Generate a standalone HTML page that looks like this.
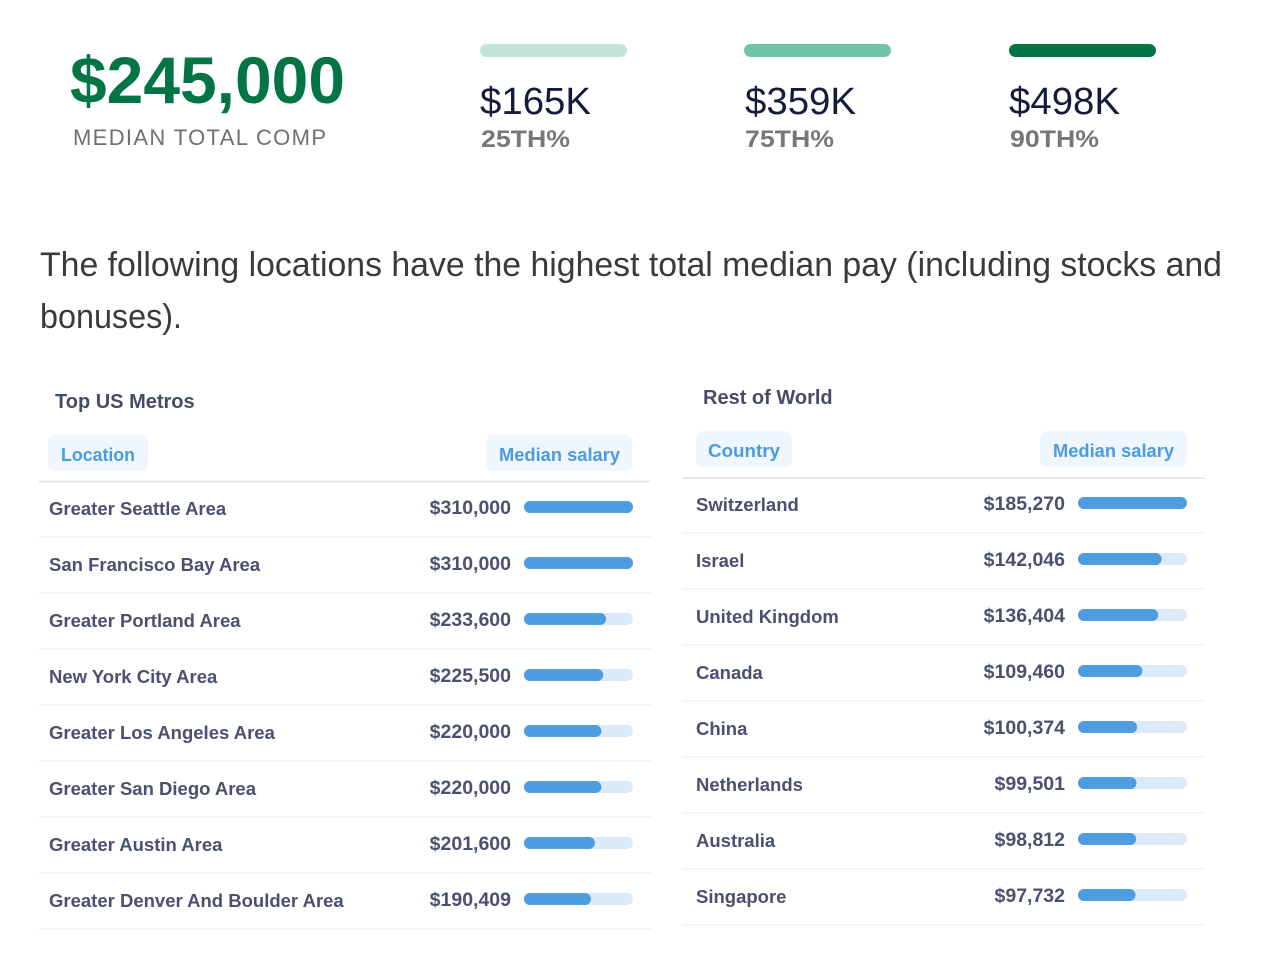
<!DOCTYPE html>
<html><head><meta charset="utf-8"><style>
html,body{margin:0;padding:0;background:#fff;}
svg{display:block;}
text{font-family:"Liberation Sans",Arial,sans-serif;}
</style></head><body>
<svg width="1263" height="959" viewBox="0 0 1263 959" xmlns="http://www.w3.org/2000/svg">
<rect width="1263" height="959" fill="#fff"/>
<!-- header -->
<text x="70" y="103" font-size="66" font-weight="bold" fill="#037545" textLength="275" lengthAdjust="spacingAndGlyphs">$245,000</text>
<text x="73" y="145" font-size="22" fill="#707070" textLength="253" lengthAdjust="spacing">MEDIAN TOTAL COMP</text>

<rect x="480" y="44" width="147" height="13" rx="6.5" fill="#c3e3d8"/>
<rect x="744" y="44" width="147" height="13" rx="6.5" fill="#6fc4a6"/>
<rect x="1009" y="44" width="147" height="13" rx="6.5" fill="#037545"/>

<text x="480" y="114" font-size="38" fill="#131c3b" textLength="111" lengthAdjust="spacingAndGlyphs">$165K</text>
<text x="745" y="114" font-size="38" fill="#131c3b" textLength="111" lengthAdjust="spacingAndGlyphs">$359K</text>
<text x="1009" y="114" font-size="38" fill="#131c3b" textLength="111" lengthAdjust="spacingAndGlyphs">$498K</text>

<text x="481" y="147" font-size="24" font-weight="bold" fill="#777" textLength="89" lengthAdjust="spacingAndGlyphs">25TH%</text>
<text x="745" y="147" font-size="24" font-weight="bold" fill="#777" textLength="89" lengthAdjust="spacingAndGlyphs">75TH%</text>
<text x="1010" y="147" font-size="24" font-weight="bold" fill="#777" textLength="89" lengthAdjust="spacingAndGlyphs">90TH%</text>

<!-- paragraph -->
<text x="40" y="276" font-size="33.8" fill="#3a3a3a" textLength="1182" lengthAdjust="spacingAndGlyphs">The following locations have the highest total median pay (including stocks and</text>
<text x="40" y="328" font-size="33.8" fill="#3a3a3a" textLength="142" lengthAdjust="spacingAndGlyphs">bonuses).</text>

<!-- left table -->
<text x="55" y="408" font-size="20" font-weight="bold" fill="#454d66">Top US Metros</text>
<rect x="48" y="435" width="100" height="36" rx="7" fill="#eff6fd"/>
<text x="61" y="461" font-size="18" font-weight="bold" fill="#4b9be0" textLength="74" lengthAdjust="spacingAndGlyphs">Location</text>
<rect x="486" y="435" width="146" height="36" rx="7" fill="#eff6fd"/>
<text x="499" y="461" font-size="18" font-weight="bold" fill="#4b9be0" textLength="121" lengthAdjust="spacingAndGlyphs">Median salary</text>
<line x1="39" y1="481.5" x2="651" y2="481.5" stroke="#e7e9ec" stroke-width="2"/>

<g font-size="18.5" font-weight="bold" fill="#4a5170">
<text x="49" y="515">Greater Seattle Area</text>
<text x="49" y="571">San Francisco Bay Area</text>
<text x="49" y="627">Greater Portland Area</text>
<text x="49" y="683">New York City Area</text>
<text x="49" y="739">Greater Los Angeles Area</text>
<text x="49" y="795">Greater San Diego Area</text>
<text x="49" y="851">Greater Austin Area</text>
<text x="49" y="907">Greater Denver And Boulder Area</text>
</g>
<g font-size="19.5" font-weight="bold" fill="#4a5170" text-anchor="end">
<text x="511" y="514">$310,000</text>
<text x="511" y="570">$310,000</text>
<text x="511" y="626">$233,600</text>
<text x="511" y="682">$225,500</text>
<text x="511" y="738">$220,000</text>
<text x="511" y="794">$220,000</text>
<text x="511" y="850">$201,600</text>
<text x="511" y="906">$190,409</text>
</g>
<g fill="#dbeaf8">
<rect x="524" y="501" width="109" height="12" rx="6"/>
<rect x="524" y="557" width="109" height="12" rx="6"/>
<rect x="524" y="613" width="109" height="12" rx="6"/>
<rect x="524" y="669" width="109" height="12" rx="6"/>
<rect x="524" y="725" width="109" height="12" rx="6"/>
<rect x="524" y="781" width="109" height="12" rx="6"/>
<rect x="524" y="837" width="109" height="12" rx="6"/>
<rect x="524" y="893" width="109" height="12" rx="6"/>
</g>
<g fill="#4d9de0">
<rect x="524" y="501" width="109" height="12" rx="6"/>
<rect x="524" y="557" width="109" height="12" rx="6"/>
<rect x="524" y="613" width="82.1" height="12" rx="6"/>
<rect x="524" y="669" width="79.3" height="12" rx="6"/>
<rect x="524" y="725" width="77.4" height="12" rx="6"/>
<rect x="524" y="781" width="77.4" height="12" rx="6"/>
<rect x="524" y="837" width="70.9" height="12" rx="6"/>
<rect x="524" y="893" width="67" height="12" rx="6"/>
</g>
<g stroke="#f1f2f4" stroke-width="1.5">
<line x1="39" y1="537" x2="651" y2="537"/>
<line x1="39" y1="593" x2="651" y2="593"/>
<line x1="39" y1="649" x2="651" y2="649"/>
<line x1="39" y1="705" x2="651" y2="705"/>
<line x1="39" y1="761" x2="651" y2="761"/>
<line x1="39" y1="817" x2="651" y2="817"/>
<line x1="39" y1="873" x2="651" y2="873"/>
<line x1="39" y1="929" x2="651" y2="929"/>
</g>

<!-- right table -->
<text x="703" y="404" font-size="20" font-weight="bold" fill="#454d66">Rest of World</text>
<rect x="696" y="431" width="96" height="36" rx="7" fill="#eff6fd"/>
<text x="708" y="457" font-size="18" font-weight="bold" fill="#4b9be0" textLength="72" lengthAdjust="spacingAndGlyphs">Country</text>
<rect x="1040" y="431" width="147" height="36" rx="7" fill="#eff6fd"/>
<text x="1053" y="457" font-size="18" font-weight="bold" fill="#4b9be0" textLength="121" lengthAdjust="spacingAndGlyphs">Median salary</text>
<line x1="682" y1="478" x2="1205" y2="478" stroke="#e7e9ec" stroke-width="2"/>

<g font-size="18.5" font-weight="bold" fill="#4a5170">
<text x="696" y="511">Switzerland</text>
<text x="696" y="567">Israel</text>
<text x="696" y="623">United Kingdom</text>
<text x="696" y="679">Canada</text>
<text x="696" y="735">China</text>
<text x="696" y="791">Netherlands</text>
<text x="696" y="847">Australia</text>
<text x="696" y="903">Singapore</text>
</g>
<g font-size="19.5" font-weight="bold" fill="#4a5170" text-anchor="end">
<text x="1065" y="510">$185,270</text>
<text x="1065" y="566">$142,046</text>
<text x="1065" y="622">$136,404</text>
<text x="1065" y="678">$109,460</text>
<text x="1065" y="734">$100,374</text>
<text x="1065" y="790">$99,501</text>
<text x="1065" y="846">$98,812</text>
<text x="1065" y="902">$97,732</text>
</g>
<g fill="#dbeaf8">
<rect x="1078" y="497" width="109" height="12" rx="6"/>
<rect x="1078" y="553" width="109" height="12" rx="6"/>
<rect x="1078" y="609" width="109" height="12" rx="6"/>
<rect x="1078" y="665" width="109" height="12" rx="6"/>
<rect x="1078" y="721" width="109" height="12" rx="6"/>
<rect x="1078" y="777" width="109" height="12" rx="6"/>
<rect x="1078" y="833" width="109" height="12" rx="6"/>
<rect x="1078" y="889" width="109" height="12" rx="6"/>
</g>
<g fill="#4d9de0">
<rect x="1078" y="497" width="109" height="12" rx="6"/>
<rect x="1078" y="553" width="83.6" height="12" rx="6"/>
<rect x="1078" y="609" width="80.2" height="12" rx="6"/>
<rect x="1078" y="665" width="64.4" height="12" rx="6"/>
<rect x="1078" y="721" width="59.1" height="12" rx="6"/>
<rect x="1078" y="777" width="58.5" height="12" rx="6"/>
<rect x="1078" y="833" width="58.1" height="12" rx="6"/>
<rect x="1078" y="889" width="57.5" height="12" rx="6"/>
</g>
<g stroke="#f1f2f4" stroke-width="1.5">
<line x1="682" y1="533" x2="1205" y2="533"/>
<line x1="682" y1="589" x2="1205" y2="589"/>
<line x1="682" y1="645" x2="1205" y2="645"/>
<line x1="682" y1="701" x2="1205" y2="701"/>
<line x1="682" y1="757" x2="1205" y2="757"/>
<line x1="682" y1="813" x2="1205" y2="813"/>
<line x1="682" y1="869" x2="1205" y2="869"/>
<line x1="682" y1="925" x2="1205" y2="925"/>
</g>
</svg>
</body></html>
